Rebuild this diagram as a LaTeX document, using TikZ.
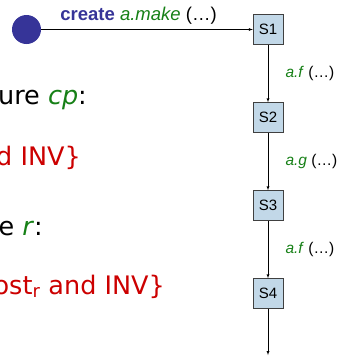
\documentclass[tikz,border=0pt]{standalone}
\usepackage{fontspec}
\setmainfont{DejaVu Sans}
\newfontfamily\arialfont{Liberation Sans}
\usepackage{tikz}
\definecolor{dotblue}{RGB}{54,52,152}
\definecolor{boxblue}{RGB}{194,216,232}
\definecolor{codegreen}{RGB}{22,128,22}
\definecolor{assertred}{RGB}{204,0,0}
\newcommand{\fname}[1]{\textcolor{codegreen}{\textit{#1}}}

\begin{document}
\begin{tikzpicture}[x=1pt,y=1pt,node distance=88pt,
    state/.style={draw=black!75,fill=boxblue,minimum size=30pt,inner sep=0pt,
      font=\arialfont\fontsize{15}{18}\selectfont},
    call/.style={font=\arialfont\fontsize{15.5}{18}\selectfont},
    line/.style={anchor=base east,inner sep=0pt,font=\fontsize{25.5}{30}\selectfont}]
      \useasboundingbox (0,-357) rectangle (341,0);
      \node[circle,fill=dotblue,minimum size=29pt,inner sep=0pt] (0) at (26.5,-29.5) {};
      \node[state] (1) at (268,-29.5) {S1};
      \node[state,below of=1] (2) {S2};
      \node[state,below of=2] (3) {S3};
      \node[state,below of=3] (4) {S4};
      \coordinate (5) at (268,-355);

      \node[line] (t1) at (87,-104) {ure \fname{cp}:};
      \node[line,text=assertred] (t2) at (81,-165) {d INV\}};
      \node[line] (t3) at (43,-235) {e \fname{r}:};
      \node[line,text=assertred] (t4) at (165,-294) {ost\textsubscript{r} and INV\}};

      \draw[-latex] (0) -- node[call,above,pos=0.46,yshift=2pt,font=\arialfont\fontsize{18.5}{22}\selectfont]
        {\textcolor{dotblue}{\textbf{create}} \fname{a.make} (\dots)} (1);
      \draw[-latex] (1) -- node[call,right=14pt] {\fname{a.f} (\dots)} (2);
      \draw[-latex] (2) -- node[call,right=14pt] {\fname{a.g} (\dots)} (3);
      \draw[-latex] (3) -- node[call,right=14pt] {\fname{a.f} (\dots)} (4);
      \draw[-latex] (4) -- (5);
    \end{tikzpicture}
\end{document}
